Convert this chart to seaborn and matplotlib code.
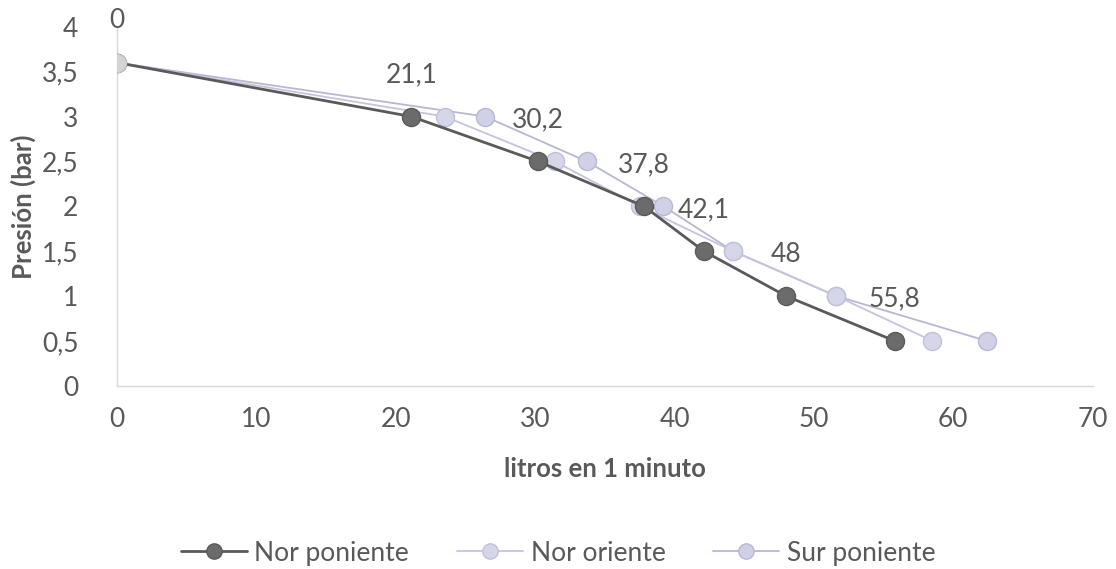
import matplotlib
matplotlib.use("Agg")
import matplotlib.pyplot as plt
import seaborn as sns
import pandas as pd
from matplotlib.lines import Line2D

presion = [3.6, 3.0, 2.5, 2.0, 1.5, 1.0, 0.5]
nor_poniente = [0, 21.1, 30.2, 37.8, 42.1, 48.0, 55.8]
nor_oriente = [0, 23.5, 31.4, 37.5, 44.2, 51.6, 58.5]
sur_poniente = [0, 26.4, 33.7, 39.2, 44.2, 51.6, 62.4]
series_names = ["Nor poniente", "Nor oriente", "Sur poniente"]
x_ticks = [0, 10, 20, 30, 40, 50, 60, 70]
y_ticks = [0, 0.5, 1, 1.5, 2, 2.5, 3, 3.5, 4]

sns.set_theme(style="white")
plt.rcParams['font.family'] = ['Lato', 'DejaVu Sans']

fig = plt.figure(figsize=(11.16, 5.69), dpi=100)
ax = fig.add_axes([0.105, 0.322, 0.874, 0.631])

styles = {
    "Nor poniente": dict(line="#5a5a5a", face="#6b6b6b", edge="#5a5a5a", lw=2.0, zorder=4),
    "Nor oriente": dict(line="#c4c4dc", face="#d6d6ea", edge="#c0c0d8", lw=1.3, zorder=3),
    "Sur poniente": dict(line="#b8b8d0", face="#d0d0e6", edge="#b8b8d4", lw=1.3, zorder=3),
}
data = {"Nor poniente": nor_poniente, "Nor oriente": nor_oriente, "Sur poniente": sur_poniente}

for name in ["Sur poniente", "Nor oriente", "Nor poniente"]:
    df = pd.DataFrame({"x": data[name], "y": presion})
    st = styles[name]
    sns.lineplot(data=df, x="x", y="y", ax=ax, sort=False, color=st["line"],
                 linewidth=st["lw"], marker="o", markersize=13,
                 markerfacecolor=st["face"], markeredgecolor=st["edge"],
                 markeredgewidth=1.0, zorder=st["zorder"])

# first point lighter gray (overlap)
ax.plot([0], [3.6], marker="o", markersize=13, color="#d4d4d4", markeredgecolor="#c8c8c8", zorder=6)

for xv, yv in zip(nor_poniente, presion):
    lab = ("%g" % xv).replace(".", ",")
    ax.annotate(lab, (xv, yv), xytext=(0, 30), textcoords="offset points",
                ha="center", va="center", fontsize=19, color="#595959", zorder=7)

ax.set_xlim(0, 70)
ax.set_ylim(0, 4)
ax.set_xticks(x_ticks)
ax.set_yticks(y_ticks)
ax.set_xticklabels([str(v) for v in x_ticks])
ax.set_yticklabels([("%g" % v).replace(".", ",") for v in y_ticks])
ax.tick_params(axis="x", length=0, pad=15, labelsize=19, labelcolor="#595959")
ax.tick_params(axis="y", length=0, pad=28, labelsize=19, labelcolor="#595959")
for s in ["top", "right"]:
    ax.spines[s].set_visible(False)
for s in ["left", "bottom"]:
    ax.spines[s].set_color("#d9d9d9")
    ax.spines[s].set_linewidth(1.0)
ax.set_xlabel("litros en 1 minuto", fontsize=18.5, fontweight="bold", color="#595959", labelpad=18)
ax.set_ylabel("Presión (bar)", fontsize=18.5, fontweight="bold", color="#595959", labelpad=4)

handles = []
for name in series_names:
    st = styles[name]
    handles.append(Line2D([0], [0], color=st["line"], lw=st["lw"], marker="o", markersize=11,
                          markerfacecolor=st["face"], markeredgecolor=st["edge"]))
fig.legend(handles, series_names, loc="center", bbox_to_anchor=(0.5, 0.028), ncol=3,
           frameon=False, fontsize=19, labelcolor="#595959", handlelength=2.5,
           columnspacing=1.8, handletextpad=0.3)

fig.savefig("out.png", dpi=100, facecolor="white")
